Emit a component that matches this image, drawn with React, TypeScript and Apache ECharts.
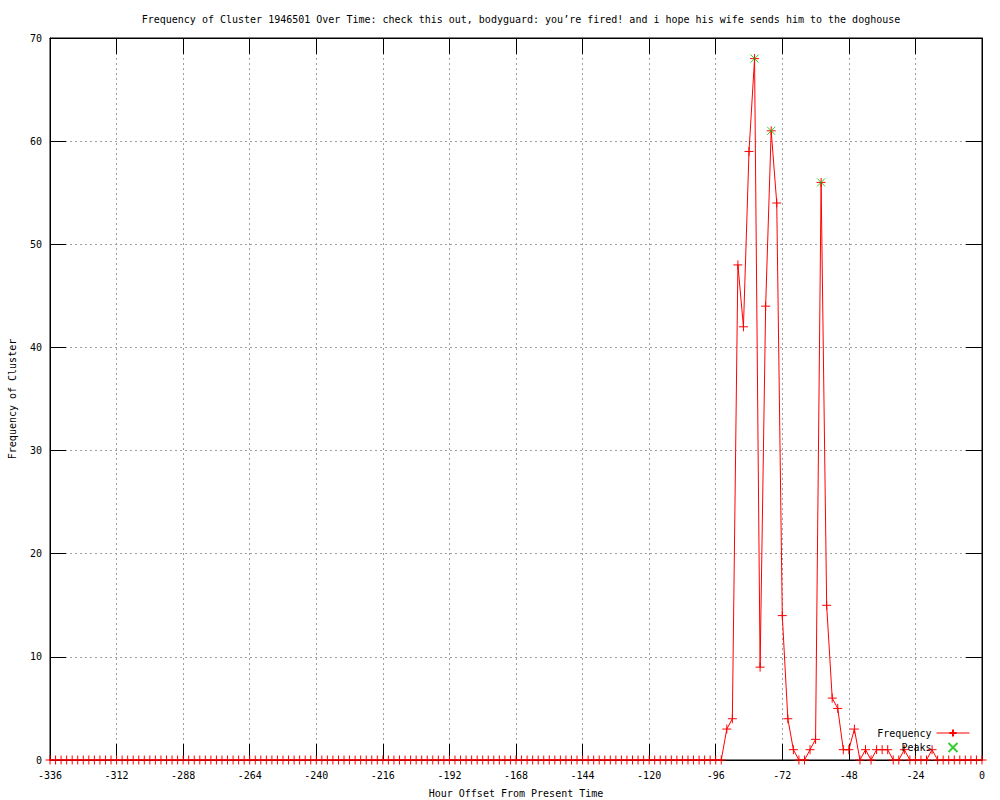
import React, { useEffect, useRef } from "react";
import * as echarts from "echarts";

const TITLE =
  "Frequency of Cluster 1946501 Over Time: check this out, bodyguard: you’re fired! and i hope his wife sends him to the doghouse";
const X_NAME = "Hour Offset From Present Time";
const Y_NAME = "Frequency of Cluster";

const hours = [
  -336, -334, -332, -330, -328, -326, -324, -322, -320, -318, -316, -314,
  -312, -310, -308, -306, -304, -302, -300, -298, -296, -294, -292, -290,
  -288, -286, -284, -282, -280, -278, -276, -274, -272, -270, -268, -266,
  -264, -262, -260, -258, -256, -254, -252, -250, -248, -246, -244, -242,
  -240, -238, -236, -234, -232, -230, -228, -226, -224, -222, -220, -218,
  -216, -214, -212, -210, -208, -206, -204, -202, -200, -198, -196, -194,
  -192, -190, -188, -186, -184, -182, -180, -178, -176, -174, -172, -170,
  -168, -166, -164, -162, -160, -158, -156, -154, -152, -150, -148, -146,
  -144, -142, -140, -138, -136, -134, -132, -130, -128, -126, -124, -122,
  -120, -118, -116, -114, -112, -110, -108, -106, -104, -102, -100, -98,
  -96, -94, -92, -90, -88, -86, -84, -82, -80, -78, -76, -74,
  -72, -70, -68, -66, -64, -62, -60, -58, -56, -54, -52, -50,
  -48, -46, -44, -42, -40, -38, -36, -34, -32, -30, -28, -26,
  -24, -22, -20, -18, -16, -14, -12, -10, -8, -6, -4, -2, 0,
];

const frequency = [
  0, 0, 0, 0, 0, 0, 0, 0, 0, 0, 0, 0,
  0, 0, 0, 0, 0, 0, 0, 0, 0, 0, 0, 0,
  0, 0, 0, 0, 0, 0, 0, 0, 0, 0, 0, 0,
  0, 0, 0, 0, 0, 0, 0, 0, 0, 0, 0, 0,
  0, 0, 0, 0, 0, 0, 0, 0, 0, 0, 0, 0,
  0, 0, 0, 0, 0, 0, 0, 0, 0, 0, 0, 0,
  0, 0, 0, 0, 0, 0, 0, 0, 0, 0, 0, 0,
  0, 0, 0, 0, 0, 0, 0, 0, 0, 0, 0, 0,
  0, 0, 0, 0, 0, 0, 0, 0, 0, 0, 0, 0,
  0, 0, 0, 0, 0, 0, 0, 0, 0, 0, 0, 0,
  0, 0, 3, 4, 48, 42, 59, 68, 9, 44, 61, 54,
  14, 4, 1, 0, 0, 1, 2, 56, 15, 6, 5, 1,
  1, 3, 0, 1, 0, 1, 1, 1, 0, 0, 1, 0,
  0, 0, 0, 1, 0, 0, 0, 0, 0, 0, 0, 0, 0,
];

const peakHours = [-82, -76, -58];
const peakValues = [68, 61, 56];

const FONT = "'DejaVu Sans Mono', 'Liberation Mono', monospace";
const RED = "#ff0000";
const GREEN = "#00c000";
const PLUS = "path://M0,5L10,5M5,0L5,10";
const CROSS = "path://M0,0L10,10M10,0L0,10";

export default function App() {
  const ref = useRef<HTMLDivElement>(null);

  useEffect(() => {
    if (!ref.current) return;
    const chart = echarts.init(ref.current, null, { renderer: "svg" });

    const freqData = hours.map((h, i) => [h, frequency[i]]);
    const peakData = peakHours.map((h, i) => [h, peakValues[i]]);

    const gridLine = () => ({
      show: true,
      lineStyle: { color: "#a0a0a0", width: 1, type: [2, 3] as any },
    });
    const tick = () => ({
      show: true,
      inside: true,
      length: 16,
      lineStyle: { color: "#000", width: 1 },
    });
    const line = () => ({
      show: true,
      onZero: false,
      lineStyle: { color: "#000", width: 1 },
    });

    chart.setOption({
      animation: false,
      backgroundColor: "#ffffff",
      title: {
        text: TITLE,
        left: 516,
        top: 9,
        textAlign: "center",
        textStyle: {
          fontFamily: FONT,
          fontSize: 10,
          fontWeight: "normal",
          color: "#000",
        },
      },
      grid: {
        left: 50,
        right: 18,
        top: 38,
        bottom: 40,
        containLabel: false,
        outerBoundsMode: "none",
        show: true,
        borderColor: "#000",
        borderWidth: 1,
        backgroundColor: "transparent",
      },
      legend: {
        orient: "vertical",
        align: "right",
        right: 30,
        top: 728,
        padding: 0,
        itemWidth: 33,
        itemHeight: 9,
        itemGap: 4,
        lineStyle: { width: 1 },
        textStyle: { fontFamily: FONT, fontSize: 10, color: "#000" },
        data: ["Frequency", "Peaks"],
      },
      xAxis: [
        {
          type: "value",
          min: -336,
          max: 0,
          interval: 24,
          name: X_NAME,
          nameLocation: "middle",
          nameGap: 28,
          nameTextStyle: { fontFamily: FONT, fontSize: 10, color: "#000" },
          axisLine: line(),
          axisTick: tick(),
          axisLabel: {
            fontFamily: FONT,
            fontSize: 10,
            color: "#000",
            margin: 10,
          },
          splitLine: gridLine(),
        },
        {
          type: "value",
          position: "top",
          min: -336,
          max: 0,
          interval: 24,
          axisLine: line(),
          axisTick: tick(),
          axisLabel: { show: false },
          splitLine: { show: false },
        },
      ],
      yAxis: [
        {
          type: "value",
          min: 0,
          max: 70,
          interval: 10,
          name: Y_NAME,
          nameLocation: "middle",
          nameGap: 33,
          nameTextStyle: { fontFamily: FONT, fontSize: 10, color: "#000" },
          axisLine: line(),
          axisTick: tick(),
          axisLabel: {
            fontFamily: FONT,
            fontSize: 10,
            color: "#000",
            margin: 8,
          },
          splitLine: gridLine(),
        },
        {
          type: "value",
          position: "right",
          min: 0,
          max: 70,
          interval: 10,
          axisLine: line(),
          axisTick: tick(),
          axisLabel: { show: false },
          splitLine: { show: false },
        },
      ],
      series: [
        {
          name: "Frequency",
          type: "line",
          data: freqData,
          showSymbol: true,
          showAllSymbol: true,
          symbol: PLUS,
          symbolSize: 9,
          lineStyle: { color: RED, width: 1 },
          itemStyle: { color: RED, borderColor: RED, borderWidth: 1 },
          z: 3,
        },
        {
          name: "Peaks",
          type: "scatter",
          xAxisIndex: 1,
          yAxisIndex: 1,
          data: peakData,
          symbol: CROSS,
          symbolSize: 8,
          itemStyle: { color: GREEN, borderColor: GREEN, borderWidth: 1 },
          z: 4,
        },
      ],
    });

    return () => chart.dispose();
  }, []);

  return (
    <div
      ref={ref}
      style={{
        position: "fixed",
        left: 0,
        top: 0,
        width: 1000,
        height: 800,
        background: "#fff",
      }}
    />
  );
}
